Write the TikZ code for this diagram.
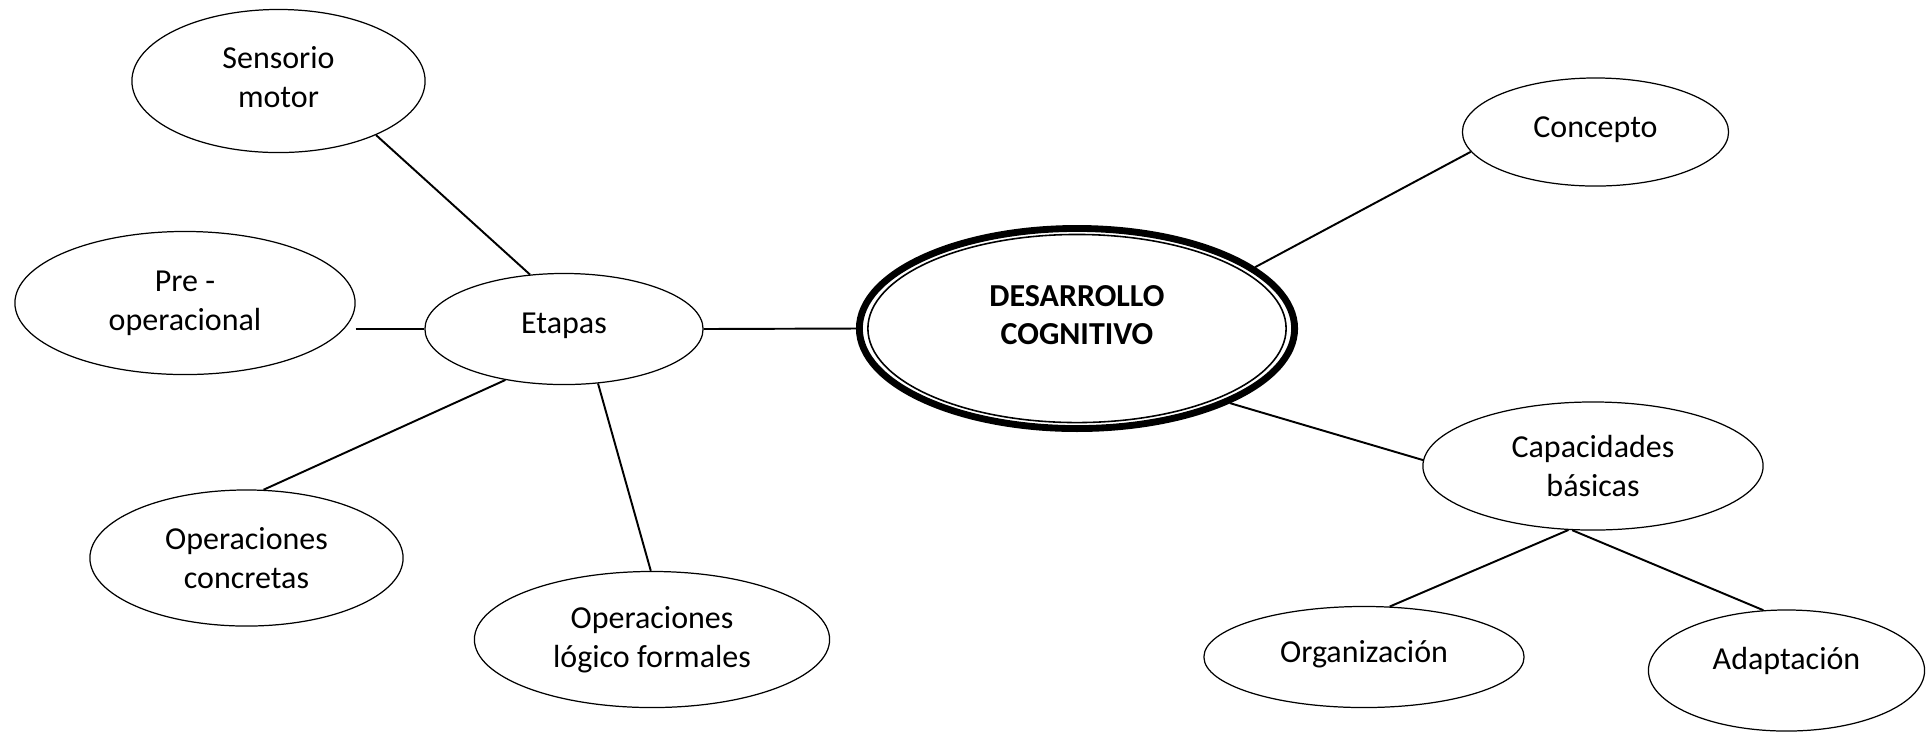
\documentclass[tikz,border=0pt]{standalone}
\usepackage{fontspec}
\setmainfont{Carlito}
\usetikzlibrary{shapes.geometric}
\tikzset{
  bubble/.style={ellipse, draw=black, line width=0.35pt, inner sep=0pt, align=center,
    font=\fontsize{9.1}{11}\selectfont},
  core/.style={ellipse, draw=black, line width=1.95pt, inner sep=0pt, align=center,
    font=\fontsize{9.1}{11}\selectfont\bfseries},
  link/.style={draw=black, line width=0.55pt},
}

\begin{document}
\begin{tikzpicture}[x=0.01cm, y=-0.01cm]
  \useasboundingbox (0,0) rectangle (1932,732);

  % centre
  \node[core, minimum width=4.35cm, minimum height=2.0cm, text depth=0.27cm] (des) at (1077,328.5) {DESARROLLO\\COGNITIVO};
  \draw[line width=0.45pt] (des.center) ellipse [x radius=2.09cm, y radius=0.94cm];

  % etapas
  \node[bubble, minimum width=2.78cm, minimum height=1.11cm] (etapas) at (564,329) {\raisebox{0.11cm}{Etapas}};
  \node[bubble, minimum width=2.93cm, minimum height=1.43cm, text depth=0.08cm] (sens) at (278.5,81) {Sensorio\\motor};
  \node[bubble, minimum width=3.40cm, minimum height=1.43cm] (pre) at (185,303) {Pre -\\operacional};
  \node[bubble, minimum width=3.13cm, minimum height=1.36cm] (concretas) at (246.5,558) {Operaciones\\concretas};
  \node[bubble, minimum width=3.55cm, minimum height=1.36cm] (logico) at (652,639.5) {Operaciones\\lógico formales};

  % lado derecho
  \node[bubble, minimum width=2.66cm, minimum height=1.08cm] (concepto) at (1595.5,132) {\raisebox{0.10cm}{Concepto}};
  \node[bubble, minimum width=3.40cm, minimum height=1.28cm] (capac) at (1593,466) {Capacidades\\básicas};
  \node[bubble, minimum width=3.20cm, minimum height=1.01cm] (organiza) at (1364,657) {\raisebox{0.11cm}{Organización}};
  \node[bubble, minimum width=2.76cm, minimum height=1.21cm] (adapta) at (1786.5,670.5) {\raisebox{0.24cm}{Adaptación}};

  \draw[link] (sens.-29) -- (etapas.122);
  \draw[link] (pre.east |- etapas.west) -- (etapas.west);
  \draw[link] (etapas.east) -- (des.west);
  \draw[link] (etapas.221) -- (concretas.76);
  \draw[link] (etapas.-58) -- (logico.91);
  \draw[link] (des.19) -- (concepto.189);
  \draw[link] (des.-26) -- (capac.178);
  \draw[link] (capac.-111) -- (organiza.63);
  \draw[link] (capac.-108) -- (adapta.111);
\end{tikzpicture}
\end{document}
